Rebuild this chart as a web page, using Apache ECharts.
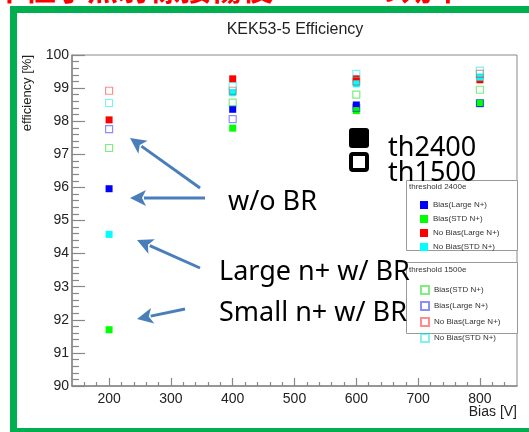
<!DOCTYPE html>
<html>
<head>
<meta charset="utf-8">
<script src="https://cdn.jsdelivr.net/npm/echarts@6/dist/echarts.min.js"></script>
<style>
    html, body { margin: 0; padding: 0; background: #fff; overflow: hidden; }
    #chart { width: 529px; height: 432px; }
</style>
</head>
<body>
<div id="chart"></div>
<script>
    "use strict";

    // バイアス電圧 [V]
    var biasV = [200, 400, 600, 800];

    // threshold 2400e (塗りつぶし)
    var th2400BiasLarge   = [95.96, 98.36, 98.49, 98.53];
    var th2400BiasStd     = [91.70, 97.79, 98.32, 98.55];
    var th2400NoBiasLarge = [98.04, 99.28, 99.28, 99.25];
    var th2400NoBiasStd   = [94.58, 98.86, 99.13, 99.33];

    // threshold 1500e (白抜き)
    var th1500BiasStd     = [97.19, 98.56, 98.80, 98.95];
    var th1500BiasLarge   = [97.76, 98.06, 98.40, 98.55];
    var th1500NoBiasLarge = [98.92, 98.92, 99.20, 99.43];
    var th1500NoBiasStd   = [98.55, 99.06, 99.43, 99.53];

    // 軸の目盛り
    var xMajorTicks = [200, 300, 400, 500, 600, 700, 800];
    var xMinorTicks = [160, 180, 220, 240, 260, 280, 320, 340, 360, 380, 420, 440, 460, 480,
        520, 540, 560, 580, 620, 640, 660, 680, 720, 740, 760, 780, 820, 840];

    var font = 'Liberation Sans';
    var axisGrey = '#888';

    function pairs(ys) {
        return biasV.map(function (x, i) { return [x, ys[i]]; });
    }

    function filled(name, color, ys) {
        return {
            name: name + '|2400',
            type: 'scatter',
            symbol: 'rect',
            symbolSize: 7,
            itemStyle: { color: color, opacity: 1 },
            data: pairs(ys),
            z: 3
        };
    }

    function hollow(name, color, ys) {
        return {
            name: name + '|1500',
            type: 'scatter',
            symbol: 'rect',
            symbolSize: 7,
            itemStyle: { color: 'rgba(255,255,255,0)', borderColor: color, borderWidth: 1.2, opacity: 1 },
            data: pairs(ys),
            z: 4
        };
    }

    // 矢印
    function arrow(x1, y1, x2, y2) {
        var dx = x2 - x1, dy = y2 - y1;
        var len = Math.sqrt(dx * dx + dy * dy);
        var ux = dx / len, uy = dy / len;
        var hl = 16, hw = 8;
        var bx = x2 - ux * hl, by = y2 - uy * hl;
        var col = '#4a7ebb';
        return [
            { type: 'line', shape: { x1: x1, y1: y1, x2: bx + ux * 2, y2: by + uy * 2 },
              style: { stroke: col, lineWidth: 3 }, z: 10 },
            { type: 'polygon', shape: { points: [[x2, y2], [bx - uy * hw, by + ux * hw], [bx + ux * 4, by + uy * 4], [bx + uy * hw, by - ux * hw]] },
              style: { fill: col }, z: 10 }
        ];
    }

    var chart = echarts.init(document.getElementById('chart'));

    var green = '#00b050';
    var graphics = [
        { type: 'text', left: -6, top: -27, style: { text: '中性子照射標接傷後：98%の効率', fill: '#ff0000', font: 'bold 31px "Noto Sans CJK JP"' }, z: 1 },
        // 緑の枠 (右辺なし)
        { type: 'rect', shape: { x: 10, y: 6, width: 560, height: 7 }, style: { fill: green }, z: 20 },
        { type: 'rect', shape: { x: 10, y: 6, width: 7, height: 430 }, style: { fill: green }, z: 20 },
        { type: 'rect', shape: { x: 10, y: 428, width: 560, height: 7 }, style: { fill: green }, z: 20 },
        { type: 'text', x: 27, y: 55, rotation: Math.PI / 2, style: { text: 'efficiency [%]', fill: '#222', font: '13px "' + font + '"', textAlign: 'right', textVerticalAlign: 'middle' } },
        { type: 'text', x: 517, y: 412, style: { text: 'Bias [V]', fill: '#222', font: '14px "' + font + '"', textAlign: 'right', textVerticalAlign: 'middle' } },
        // 凡例の枠
        { type: 'rect', shape: { x: 406.5, y: 180.5, width: 111, height: 70 }, style: { fill: '#fff', stroke: '#999', lineWidth: 1 }, z: 5 },
        { type: 'text', x: 409, y: 187, style: { text: 'threshold 2400e', fill: '#333', font: '8px "' + font + '"', textVerticalAlign: 'middle' }, z: 6 },
        { type: 'rect', shape: { x: 406.5, y: 262.5, width: 111, height: 71 }, style: { fill: '#fff', stroke: '#999', lineWidth: 1 }, z: 5 },
        { type: 'text', x: 409, y: 270, style: { text: 'threshold 1500e', fill: '#333', font: '8px "' + font + '"', textVerticalAlign: 'middle' }, z: 6 },
        // th2400 / th1500
        { type: 'rect', shape: { x: 349, y: 128, width: 20, height: 20, r: 3 }, style: { fill: '#000' }, z: 10 },
        { type: 'rect', shape: { x: 351, y: 154, width: 16, height: 16, r: 2 }, style: { fill: '#fff', stroke: '#000', lineWidth: 4 }, z: 10 },
        { type: 'text', x: 388, y: 148, style: { text: 'th2400', fill: '#000', font: '27px "Noto Sans"', textVerticalAlign: 'middle' }, z: 10 },
        { type: 'text', x: 388, y: 173, style: { text: 'th1500', fill: '#000', font: '27px "Noto Sans"', textVerticalAlign: 'middle' }, z: 10 },
        { type: 'text', x: 228, y: 202, style: { text: 'w/o BR', fill: '#000', font: '27px "Noto Sans"', textVerticalAlign: 'middle' }, z: 10 },
        { type: 'text', x: 219, y: 272, style: { text: 'Large n+ w/ BR', fill: '#000', font: '27px "Noto Sans"', textVerticalAlign: 'middle' }, z: 10 },
        { type: 'text', x: 219, y: 313, style: { text: 'Small n+ w/ BR', fill: '#000', font: '27px "Noto Sans"', textVerticalAlign: 'middle' }, z: 10 }
    ]
        .concat(arrow(200, 188, 130, 138))
        .concat(arrow(205, 198, 130, 198))
        .concat(arrow(200, 268, 137, 240))
        .concat(arrow(185, 309, 137, 319));

    var legendText = { fontSize: 8, fontFamily: font, color: '#333' };

    var option = {
        animation: false,
        title: {
            text: 'KEK53-5 Efficiency',
            left: 290,
            top: 17,
            textAlign: 'center',
            textStyle: { fontFamily: font, fontSize: 16, fontWeight: 'normal', color: '#222' }
        },
        legend: [
            {
                orient: 'vertical', left: 415, top: 196, itemWidth: 8, itemHeight: 8, itemGap: 6, itemStyle: { borderWidth: 0 },
                icon: 'rect', selectedMode: false, textStyle: legendText, z: 7,
                formatter: function (n) { return n.split('|')[0]; },
                data: ['Bias(Large N+)|2400', 'Bias(STD N+)|2400', 'No Bias(Large N+)|2400', 'No Bias(STD N+)|2400']
            },
            {
                orient: 'vertical', left: 415, top: 280, itemWidth: 8, itemHeight: 8, itemGap: 6,
                icon: 'rect', selectedMode: false, textStyle: legendText, z: 7,
                formatter: function (n) { return n.split('|')[0]; },
                data: ['Bias(STD N+)|1500', 'Bias(Large N+)|1500', 'No Bias(Large N+)|1500', 'No Bias(STD N+)|1500']
            }
        ],
        grid: { left: 72, right: 12, top: 55, bottom: 46, show: true, borderColor: axisGrey, borderWidth: 1, backgroundColor: 'rgba(0,0,0,0)' },
        xAxis: [
            {
                type: 'value', min: 140, max: 860,
                axisLine: { show: true, lineStyle: { color: axisGrey, width: 1.5 } },
                axisTick: { show: true, inside: true, length: 8, customValues: xMajorTicks, lineStyle: { color: axisGrey, width: 1.2 } },
                axisLabel: { customValues: xMajorTicks, margin: 6, fontFamily: font, fontSize: 14, color: '#222' },
                splitLine: { show: false }
            },
            {
                type: 'value', min: 140, max: 860, position: 'bottom',
                axisLine: { show: false },
                axisTick: { show: true, inside: true, length: 4, customValues: xMinorTicks, lineStyle: { color: axisGrey, width: 1.2 } },
                axisLabel: { show: false },
                splitLine: { show: false }
            }
        ],
        yAxis: {
            type: 'value', min: 90, max: 100, interval: 1,
            axisLine: { show: true, lineStyle: { color: axisGrey, width: 1.5 } },
            axisTick: { show: true, inside: true, length: 13, lineStyle: { color: axisGrey, width: 1.2 } },
            minorTick: { show: true, splitNumber: 5, length: 7, lineStyle: { color: axisGrey, width: 1.2 } },
            axisLabel: { margin: 3, fontFamily: font, fontSize: 14, color: '#222' },
            splitLine: { show: false }
        },
        series: [
            filled('Bias(Large N+)', '#0000ff', th2400BiasLarge),
            filled('Bias(STD N+)', '#00ff00', th2400BiasStd),
            filled('No Bias(Large N+)', '#ff0000', th2400NoBiasLarge),
            filled('No Bias(STD N+)', '#00ffff', th2400NoBiasStd),
            hollow('Bias(STD N+)', 'rgba(0,220,0,0.5)', th1500BiasStd),
            hollow('Bias(Large N+)', 'rgba(0,0,255,0.45)', th1500BiasLarge),
            hollow('No Bias(Large N+)', 'rgba(255,0,0,0.45)', th1500NoBiasLarge),
            hollow('No Bias(STD N+)', 'rgba(0,230,230,0.5)', th1500NoBiasStd)
        ],
        graphic: graphics
    };

    chart.setOption(option);
</script>
</body>
</html>
